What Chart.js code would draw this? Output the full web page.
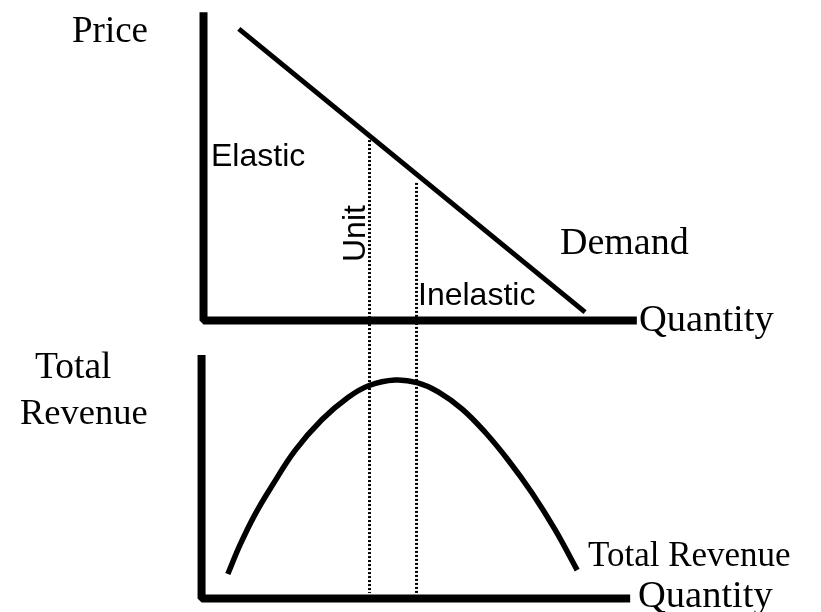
<!DOCTYPE html>
<html>
<head>
<meta charset="utf-8">
<script src="https://cdn.jsdelivr.net/npm/chart.js@4/dist/chart.umd.min.js"></script>
<style>
  html, body { margin: 0; padding: 0; background: #fff; }
  #wrap { position: relative; width: 821px; height: 612px; overflow: hidden; }
  canvas { position: absolute; left: 0; top: 0; }
  .lbl { position: absolute; white-space: nowrap; line-height: 1; color: #000; }
  .serif { font-family: "Liberation Serif", "Times New Roman", serif; font-size: 36px; }
  .sans { font-family: "Liberation Sans", Arial, sans-serif; font-size: 32px; }
  .rot { transform: rotate(-90deg); transform-origin: left top; }
</style>
</head>
<body>
<div id="wrap">
  <canvas id="c" width="821" height="612"></canvas>
  <div class="lbl serif" style="left:72px;top:11px;font-size:37px;">Price</div>
  <div class="lbl sans" style="left:211px;top:139px;">Elastic</div>
  <div class="lbl sans rot" style="left:338px;top:262px;">Unit</div>
  <div class="lbl serif" style="left:560px;top:222px;font-size:38px;">Demand</div>
  <div class="lbl serif" style="left:639px;top:299px;font-size:38.5px;">Quantity</div>
  <div class="lbl sans" style="left:418px;top:278px;">Inelastic</div>
  <div class="lbl serif" style="left:35px;top:347px;font-size:37.5px;">Total</div>
  <div class="lbl serif" style="left:20px;top:394px;font-size:36.5px;">Revenue</div>
  <div class="lbl serif" style="left:588px;top:537px;font-size:35px;">Total Revenue</div>
  <div class="lbl serif" style="left:638px;top:575px;font-size:38.5px;">Quantity</div>
</div>
<script>
// ---- Data ----
// Demand curve (top panel): quantity vs price
const demandQ = [9.0, 97.2];
const demandP = [90.5, 2.6];

// Total revenue curve (bottom panel): quantity vs total revenue
const revenueQ  = [6.2, 9.3, 13.1, 17.5, 23.3, 30.2, 36.8, 42.2, 48.8, 54.4, 59.8, 65.9, 71.7, 77.6, 83.7, 89.6, 95.2];
const revenueTR = [11.2, 24.5, 38.4, 51.7, 67.7, 81.9, 92.0, 97.5, 100, 98.8, 94.6, 86.7, 76.2, 63.4, 48.3, 31.4, 13.0];

// Unit-elastic guide lines (dotted): quantity, top on the demand curve (price), bottom near the revenue axis (revenue)
const unitQ = [42.29, 54.27];
const unitTopPrice = [56.0, 42.7];
const unitBottomRevenue = [2.5, 2.5];

// Axis extents (data units)
const priceAxisQ = [0, 0, 110.4];
const priceAxisP = [95.7, 0, 0];
const revenueAxisQ = [-0.5, -0.5, 108.7];
const revenueAxisTR = [111.4, 0, 0];

// ---- Scale ranges ----
const X_MIN = -51.85, X_MAX = 157.32;
const P_MIN = -90.47, P_MAX = 99.47;
const R_MIN = -6.18,  R_MAX = 273.91;

// convert a revenue value to the equivalent price-scale value (same vertical position)
function priceAtRevenue(tr) {
  const frac = (R_MAX - tr) / (R_MAX - R_MIN);
  return P_MAX - frac * (P_MAX - P_MIN);
}

const zip = (xs, ys) => xs.map((x, i) => ({ x: x, y: ys[i] }));

const datasets = [
  {
    label: 'Price axes', data: zip(priceAxisQ, priceAxisP), yAxisID: 'yP',
    borderColor: '#000', borderWidth: 8, borderJoinStyle: 'bevel', borderCapStyle: 'butt',
    pointRadius: 0, showLine: true, tension: 0
  },
  {
    label: 'Revenue axes', data: zip(revenueAxisQ, revenueAxisTR), yAxisID: 'yR',
    borderColor: '#000', borderWidth: 8, borderJoinStyle: 'bevel', borderCapStyle: 'butt',
    pointRadius: 0, showLine: true, tension: 0
  },
  {
    label: 'Demand', data: zip(demandQ, demandP), yAxisID: 'yP',
    borderColor: '#000', borderWidth: 5, borderCapStyle: 'butt',
    pointRadius: 0, showLine: true, tension: 0
  },
  {
    label: 'Total Revenue', data: zip(revenueQ, revenueTR), yAxisID: 'yR',
    borderColor: '#000', borderWidth: 5.5, borderCapStyle: 'butt',
    pointRadius: 0, showLine: true, tension: 0.4
  }
];
unitQ.forEach((q, i) => {
  datasets.push({
    label: 'Unit ' + (i + 1),
    data: [{ x: q, y: unitTopPrice[i] }, { x: q, y: priceAtRevenue(unitBottomRevenue[i]) }],
    yAxisID: 'yP',
    borderColor: '#000', borderWidth: 3, borderDash: [2, 2], borderCapStyle: 'butt',
    pointRadius: 0, showLine: true, tension: 0
  });
});

new Chart(document.getElementById('c'), {
  type: 'scatter',
  data: { datasets: datasets },
  options: {
    responsive: false,
    animation: false,
    layout: { padding: 0 },
    plugins: { legend: { display: false }, tooltip: { enabled: false } },
    scales: {
      x:  { type: 'linear', min: X_MIN, max: X_MAX, display: false },
      yP: { type: 'linear', min: P_MIN, max: P_MAX, display: false },
      yR: { type: 'linear', min: R_MIN, max: R_MAX, display: false }
    }
  }
});
</script>
</body>
</html>
